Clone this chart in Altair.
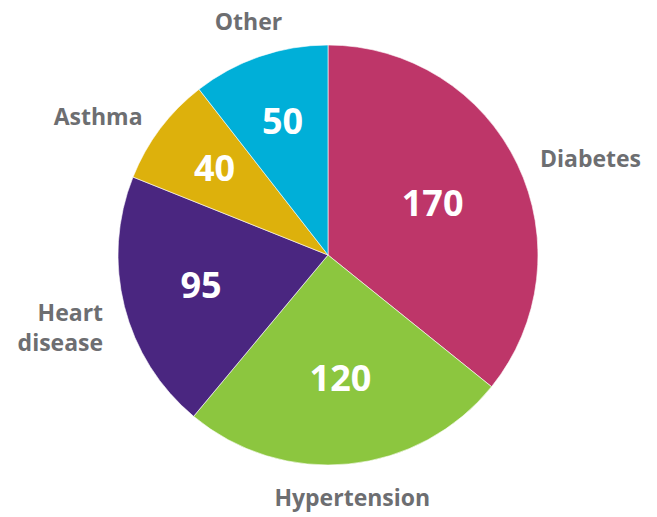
import math
import altair as alt
import pandas as pd

categories = ["Diabetes", "Hypertension", "Heart disease", "Asthma", "Other"]
values = [170, 120, 95, 40, 50]
colors = ["#BE3669", "#8CC63F", "#4A2680", "#DDB10C", "#00AFD8"]

df = pd.DataFrame({"category": categories, "value": values, "order": list(range(len(categories)))})

CX, CY = 320, 247
FONT = "Open Sans"

base = alt.Chart(df)

pie = base.mark_arc(outerRadius=210, stroke="white", strokeWidth=0.6).encode(
    theta=alt.Theta("value:Q", stack=True),
    order=alt.Order("order:Q"),
    color=alt.Color("category:N", scale=alt.Scale(domain=categories, range=colors), legend=None),
    x=alt.value(CX),
    y=alt.value(CY),
)

lab = (
    base.transform_joinaggregate(total="sum(value)")
    .transform_window(cum="sum(value)", sort=[alt.SortField("order")], frame=[None, 0])
    .transform_calculate(
        mid="(datum.cum - datum.value/2)/datum.total",
        s="sin(2*PI*((datum.cum - datum.value/2)/datum.total))",
        r="150 - 0.2*datum.value",
    )
)
theta_mid = alt.Theta("mid:Q", scale=alt.Scale(domain=[0, 1], range=[0, 2 * math.pi]))

vals = lab.mark_text(font=FONT, fontSize=36, fontWeight="bold", color="white",
                     align="center", baseline="middle").encode(
    theta=theta_mid, radius=alt.Radius("r:Q", scale=None), x=alt.value(CX), y=alt.value(CY), text="value:Q"
)

def outer(cond, align, r, dy=0):
    return lab.transform_filter(cond).mark_text(
        font=FONT, fontSize=23, fontWeight="bold", color="#6D6E71",
        align=align, baseline="middle", lineBreak=" ", lineHeight=30, dy=dy,
    ).encode(theta=theta_mid, radius=alt.value(r), x=alt.value(CX), y=alt.value(CY), text="category:N")

right = outer("datum.s > 0.5", "left", 235, dy=6)
left = outer("datum.s < -0.5", "right", 232, dy=2)
center = outer("datum.s >= -0.5 && datum.s <= 0.5", "center", 245)

chart = (
    alt.layer(pie, vals, right, left, center)
    .resolve_scale(theta="independent")
    .properties(width=641, height=505, autosize=alt.AutoSizeParams(type="none"), padding=0)
    .configure_view(stroke=None)
)

chart.save("out.html", embed_options={"renderer": "svg", "actions": False})
